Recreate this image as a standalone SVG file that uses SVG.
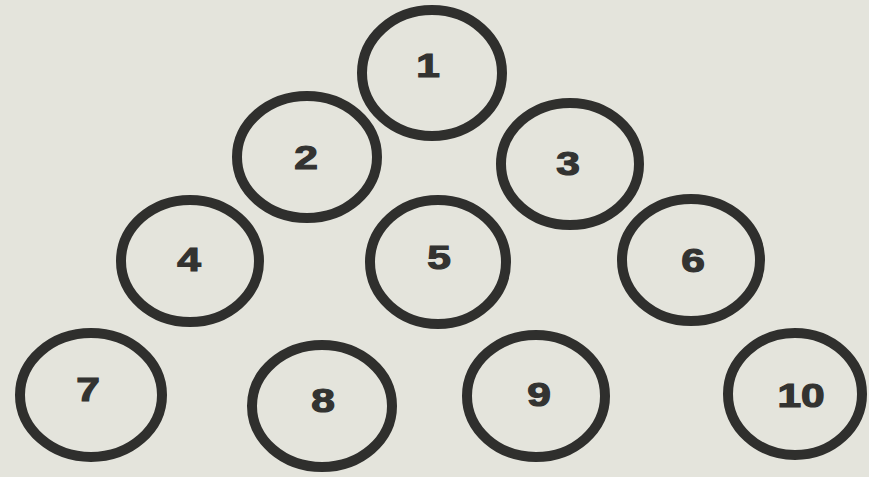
<svg xmlns="http://www.w3.org/2000/svg" width="869" height="477" viewBox="0 0 869 477">
<style>
.c{fill:none;stroke:#2f2f2d;stroke-width:10}
.t{font-family:"Liberation Sans",Arial,sans-serif;font-weight:bold;font-size:34px;fill:#333331;stroke:#333331;stroke-width:1.2;text-anchor:middle}
</style>
<rect width="869" height="477" fill="#e4e4dc"/>
<g id="connectors"></g>
<g id="n1"><ellipse class="c" cx="432" cy="73" rx="70" ry="63"/><text class="t" transform="translate(428,77) scale(1.25,1)">1</text></g>
<g id="n2"><ellipse class="c" cx="307" cy="157" rx="70" ry="61"/><text class="t" transform="translate(306,169) scale(1.25,1)">2</text></g>
<g id="n3"><ellipse class="c" cx="570" cy="164" rx="69" ry="61"/><text class="t" transform="translate(568,175) scale(1.25,1)">3</text></g>
<g id="n4"><ellipse class="c" cx="190" cy="261" rx="69" ry="61"/><text class="t" transform="translate(189,271) scale(1.25,1)">4</text></g>
<g id="n5"><ellipse class="c" cx="438" cy="262" rx="68" ry="62"/><text class="t" transform="translate(439,269) scale(1.25,1)">5</text></g>
<g id="n6"><ellipse class="c" cx="691" cy="260" rx="69" ry="61"/><text class="t" transform="translate(693,272) scale(1.25,1)">6</text></g>
<g id="n7"><ellipse class="c" cx="91" cy="395" rx="71" ry="62"/><text class="t" transform="translate(88,401) scale(1.25,1)">7</text></g>
<g id="n8"><ellipse class="c" cx="322" cy="406" rx="70" ry="61"/><text class="t" transform="translate(323,412) scale(1.25,1)">8</text></g>
<g id="n9"><ellipse class="c" cx="536" cy="396" rx="69" ry="61"/><text class="t" transform="translate(539,406) scale(1.25,1)">9</text></g>
<g id="n10"><ellipse class="c" cx="795" cy="394" rx="67" ry="61"/><text class="t" transform="translate(801,407) scale(1.25,1)">10</text></g>
</svg>
